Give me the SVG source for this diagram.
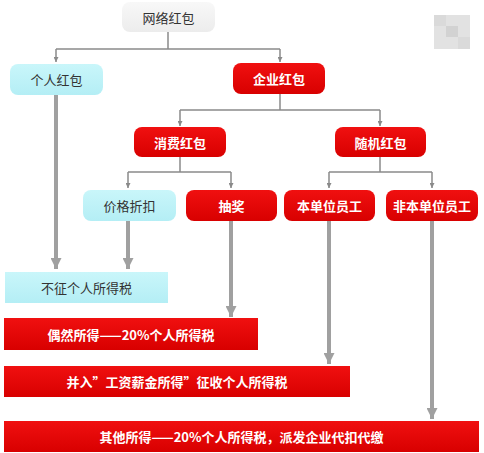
<svg xmlns="http://www.w3.org/2000/svg" width="484" height="453" viewBox="0 0 484 453">
<style>
.t{font-family:"Noto Sans CJK SC","Liberation Sans",sans-serif;font-size:13px;text-anchor:middle;dominant-baseline:central}
.w{fill:#fff;font-weight:bold}
.d{fill:#333}
.thin{stroke:#8a8a8a;stroke-width:1.5;fill:none}
.thick{stroke:#a0a0a0;stroke-width:4;fill:none}
</style>
<defs>
<linearGradient id="gr" x1="0" y1="0" x2="0" y2="1"><stop offset="0" stop-color="#f8f8f8"/><stop offset="1" stop-color="#ececec"/></linearGradient>
<linearGradient id="cy" x1="0" y1="0" x2="0" y2="1"><stop offset="0" stop-color="#c9f6fa"/><stop offset="1" stop-color="#b4eef5"/></linearGradient>
<linearGradient id="rd" x1="0" y1="0" x2="0" y2="1"><stop offset="0" stop-color="#f01010"/><stop offset="1" stop-color="#d80000"/></linearGradient>
<marker id="a1" viewBox="0 0 8 8" refX="8" refY="4" markerWidth="5" markerHeight="5" markerUnits="userSpaceOnUse" orient="auto"><path d="M0,0L8,4L0,8z" fill="#8a8a8a"/></marker>
<marker id="a2" viewBox="0 0 10 10" refX="10" refY="5" markerWidth="11" markerHeight="11" markerUnits="userSpaceOnUse" orient="auto"><path d="M0,0L10,5L0,10z" fill="#a0a0a0"/></marker>
</defs>
<rect width="484" height="453" fill="#fff"/>
<g id="placeholder">
<rect x="434" y="15" width="36" height="34" fill="#e2e2e2"/>
<rect x="446" y="26" width="12" height="11" fill="#d2d2d2"/>
<rect x="434" y="15" width="12" height="11" fill="#dadada"/>
<rect x="458" y="37" width="12" height="12" fill="#dadada"/>
</g>
<g id="connectors">
<path class="thin" d="M168,32V49"/>
<path class="thin" d="M56,49H280"/>
<path class="thin" d="M56,49V62" marker-end="url(#a1)"/>
<path class="thin" d="M280,49V62" marker-end="url(#a1)"/>
<path class="thin" d="M280,94V110"/>
<path class="thin" d="M180,110H380"/>
<path class="thin" d="M180,110V126" marker-end="url(#a1)"/>
<path class="thin" d="M380,110V126" marker-end="url(#a1)"/>
<path class="thin" d="M180,157V172"/>
<path class="thin" d="M128,172H231"/>
<path class="thin" d="M128,172V188" marker-end="url(#a1)"/>
<path class="thin" d="M231,172V188" marker-end="url(#a1)"/>
<path class="thin" d="M380,157V172"/>
<path class="thin" d="M329,172H432"/>
<path class="thin" d="M329,172V188" marker-end="url(#a1)"/>
<path class="thin" d="M432,172V188" marker-end="url(#a1)"/>
<path class="thick" d="M56,95V269" marker-end="url(#a2)"/>
<path class="thick" d="M128,221V269" marker-end="url(#a2)"/>
<path class="thick" d="M231,221V317" marker-end="url(#a2)"/>
<path class="thick" d="M329,221V364" marker-end="url(#a2)"/>
<path class="thick" d="M432,221V419" marker-end="url(#a2)"/>
</g>
<g id="n-wlhb"><rect x="122" y="2" width="93" height="30" rx="8" fill="url(#gr)"/><text class="t d" x="168.5" y="17">网络红包</text></g>
<g id="n-grhb"><rect x="10" y="64" width="93" height="31" rx="8" fill="url(#cy)"/><text class="t d" x="56.5" y="79.5">个人红包</text></g>
<g id="n-qyhb"><rect x="233" y="63" width="92" height="31" rx="8" fill="url(#rd)"/><text class="t w" x="279" y="78.5">企业红包</text></g>
<g id="n-xfhb"><rect x="134" y="127" width="92" height="30" rx="8" fill="url(#rd)"/><text class="t w" x="180" y="142">消费红包</text></g>
<g id="n-sjhb"><rect x="335" y="127" width="91" height="30" rx="8" fill="url(#rd)"/><text class="t w" x="380.5" y="142">随机红包</text></g>
<g id="n-jgzk"><rect x="83" y="190" width="93" height="31" rx="8" fill="url(#cy)"/><text class="t d" x="129.5" y="205.5">价格折扣</text></g>
<g id="n-cj"><rect x="186" y="190" width="91" height="31" rx="8" fill="url(#rd)"/><text class="t w" x="231.5" y="205.5">抽奖</text></g>
<g id="n-bdw"><rect x="284" y="190" width="91" height="31" rx="8" fill="url(#rd)"/><text class="t w" x="329.5" y="205.5">本单位员工</text></g>
<g id="n-fbdw"><rect x="386" y="190" width="92" height="31" rx="8" fill="url(#rd)"/><text class="t w" x="432" y="205.5">非本单位员工</text></g>
<g id="n-bz"><rect x="5" y="272" width="163" height="31" fill="url(#cy)"/><text class="t d" x="86.5" y="287.5">不征个人所得税</text></g>
<g id="n-ors"><rect x="4" y="318" width="254" height="32" fill="url(#rd)"/><text class="t w" x="131" y="334">偶然所得——20%个人所得税</text></g>
<g id="n-gz"><rect x="4" y="366" width="346" height="31" fill="url(#rd)"/><text class="t w" x="177" y="381.5">并入”工资薪金所得”征收个人所得税</text></g>
<g id="n-qt"><rect x="4" y="421" width="475" height="31" fill="url(#rd)"/><text class="t w" x="241.5" y="436.5">其他所得——20%个人所得税，派发企业代扣代缴</text></g>
</svg>
